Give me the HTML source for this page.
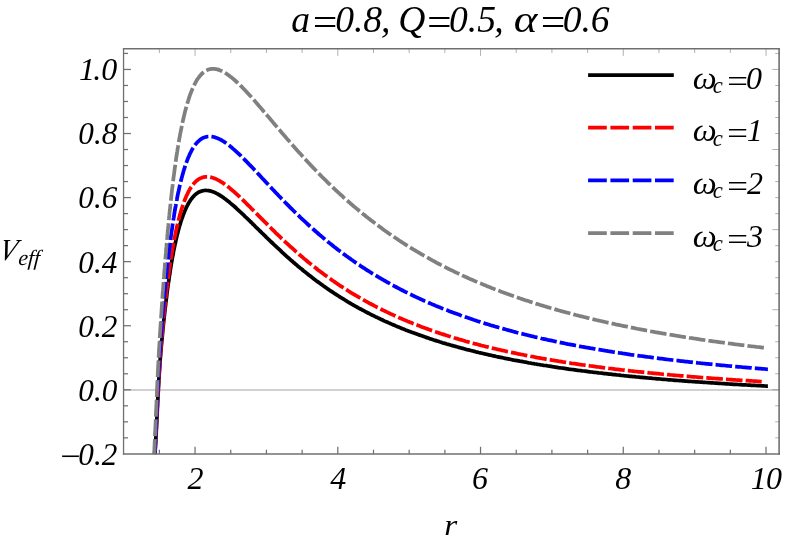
<!DOCTYPE html>
<html><head><meta charset="utf-8"><title>Veff plot</title>
<style>
html,body{margin:0;padding:0;background:#fff;}
body{width:789px;height:544px;overflow:hidden;}
svg{display:block;will-change:transform;}
text{font-family:"Liberation Serif",serif;font-style:italic;fill:#000;}
</style></head><body>
<svg width="789" height="544" viewBox="0 0 789 544">
<rect width="789" height="544" fill="#fff"/>
<line x1="123.70" y1="389.90" x2="779.50" y2="389.90" stroke="#c2c2c2" stroke-width="1.5"/>
<g stroke-linecap="butt" stroke-linejoin="round">
<path d="M155.0,454.1 L155.1,452.6 L155.2,451.1 L155.2,449.6 L155.3,448.1 L155.4,446.6 L155.5,445.1 L155.6,443.6 L155.7,442.1 L155.8,440.6 L155.8,439.1 L155.9,437.6 L156.0,436.1 L156.1,434.6 L156.2,433.1 L156.2,431.6 L156.3,430.1 L156.4,428.6 L156.5,427.1 L156.5,425.6 L156.6,424.1 L156.7,422.6 L156.8,421.1 L156.8,419.6 L156.9,418.1 L157.0,416.6 L157.1,415.1 L157.1,413.6 L157.2,412.1 L157.3,410.6 L157.3,409.1 L157.4,407.6 L157.5,406.1 L157.6,404.6 L157.6,403.1 L157.7,401.6 L157.8,400.1 L157.9,398.6 L157.9,397.1 L158.0,395.6 L158.1,394.1 L158.2,392.6 L158.3,391.1 L158.3,389.6 L158.4,388.0 L158.5,386.5 L158.6,385.0 L158.7,383.5 L158.8,382.0 L158.8,380.5 L158.9,379.0 L159.0,377.5 L159.1,376.0 L159.2,374.5 L159.3,373.0 L159.4,371.5 L159.5,370.0 L159.6,368.5 L159.7,367.0 L159.8,365.5 L159.9,364.0 L160.0,362.5 L160.1,361.0 L160.2,359.5 L160.3,358.0 L160.5,356.5 L160.6,355.1 L160.7,353.6 L160.8,352.1 L160.9,350.6 L161.1,349.1 L161.2,347.6 L161.3,346.1 L161.5,344.6 L161.6,343.1 L161.7,341.6 L161.9,340.1 L162.0,338.6 L162.2,337.1 L162.3,335.6 L162.5,334.1 L162.6,332.6 L162.7,331.1 L162.9,329.6 L163.0,328.1 L163.2,326.6 L163.3,325.1 L163.5,323.6 L163.7,322.1 L163.8,320.6 L164.0,319.1 L164.1,317.6 L164.3,316.1 L164.5,314.7 L164.6,313.2 L164.8,311.7 L165.0,310.2 L165.1,308.7 L165.3,307.2 L165.5,305.7 L165.7,304.2 L165.8,302.7 L166.0,301.2 L166.2,299.7 L166.4,298.2 L166.6,296.7 L166.8,295.2 L166.9,293.8 L167.1,292.3 L167.3,290.8 L167.5,289.3 L167.7,287.8 L167.9,286.3 L168.1,284.8 L168.3,283.3 L168.6,281.8 L168.8,280.4 L169.0,278.9 L169.2,277.4 L169.4,275.9 L169.7,274.4 L169.9,272.9 L170.1,271.4 L170.3,269.9 L170.6,268.5 L170.8,267.0 L171.1,265.5 L171.3,264.0 L171.6,262.5 L171.8,261.1 L172.1,259.6 L172.3,258.1 L172.6,256.6 L172.9,255.1 L173.2,253.7 L173.4,252.2 L173.7,250.7 L174.0,249.2 L174.3,247.8 L174.6,246.3 L174.9,244.8 L175.3,243.3 L175.6,241.9 L175.9,240.4 L176.2,238.9 L176.6,237.5 L176.9,236.0 L177.3,234.6 L177.7,233.1 L178.0,231.6 L178.4,230.2 L178.8,228.7 L179.2,227.3 L179.6,225.8 L180.1,224.4 L180.5,223.0 L180.9,221.5 L181.4,220.1 L181.9,218.7 L182.4,217.3 L182.9,215.8 L183.4,214.4 L184.0,213.0 L184.5,211.6 L185.1,210.3 L185.7,208.9 L186.3,207.5 L187.0,206.2 L187.7,204.8 L188.4,203.5 L189.2,202.2 L190.0,200.9 L190.8,199.7 L191.7,198.5 L192.7,197.3 L193.7,196.2 L194.7,195.1 L195.9,194.1 L197.1,193.2 L198.3,192.4 L199.7,191.7 L201.1,191.2 L202.5,190.8 L204.0,190.5 L205.5,190.4 L207.0,190.5 L208.5,190.6 L210.0,190.9 L211.4,191.3 L212.8,191.8 L214.2,192.3 L215.6,192.9 L216.9,193.6 L218.3,194.3 L219.6,195.1 L220.8,195.9 L222.1,196.7 L223.3,197.6 L224.5,198.5 L225.8,199.3 L226.9,200.3 L228.1,201.2 L229.3,202.1 L230.4,203.1 L231.6,204.1 L232.7,205.1 L233.9,206.0 L235.0,207.0 L236.1,208.0 L237.2,209.1 L238.3,210.1 L239.4,211.1 L240.5,212.1 L241.6,213.1 L242.7,214.2 L243.8,215.2 L244.9,216.3 L246.0,217.3 L247.1,218.3 L248.1,219.4 L249.2,220.4 L250.3,221.5 L251.4,222.5 L252.4,223.6 L253.5,224.7 L254.6,225.7 L255.6,226.8 L256.7,227.8 L257.8,228.9 L258.9,229.9 L259.9,231.0 L261.0,232.0 L262.1,233.1 L263.2,234.1 L264.2,235.2 L265.3,236.2 L266.4,237.3 L267.5,238.3 L268.5,239.4 L269.6,240.4 L270.7,241.5 L271.8,242.5 L272.9,243.5 L274.0,244.6 L275.1,245.6 L276.2,246.6 L277.3,247.7 L278.4,248.7 L279.5,249.7 L280.6,250.7 L281.7,251.8 L282.8,252.8 L283.9,253.8 L285.0,254.8 L286.1,255.8 L287.2,256.8 L288.3,257.8 L289.5,258.8 L290.6,259.8 L291.7,260.8 L292.9,261.8 L294.0,262.8 L295.1,263.7 L296.3,264.7 L297.4,265.7 L298.6,266.7 L299.7,267.6 L300.9,268.6 L302.1,269.5 L303.2,270.5 L304.4,271.4 L305.6,272.4 L306.7,273.3 L307.9,274.2 L309.1,275.2 L310.3,276.1 L311.5,277.0 L312.7,277.9 L313.8,278.9 L315.0,279.8 L316.2,280.7 L317.5,281.6 L318.7,282.4 L319.9,283.3 L321.1,284.2 L322.3,285.1 L323.5,286.0 L324.8,286.8 L326.0,287.7 L327.2,288.6 L328.5,289.4 L329.7,290.3 L331.0,291.1 L332.2,291.9 L333.5,292.8 L334.7,293.6 L336.0,294.4 L337.2,295.2 L338.5,296.0 L339.8,296.9 L341.0,297.7 L342.3,298.4 L343.6,299.2 L344.9,300.0 L346.2,300.8 L347.4,301.6 L348.7,302.3 L350.0,303.1 L351.3,303.9 L352.6,304.6 L353.9,305.4 L355.2,306.1 L356.6,306.8 L357.9,307.6 L359.2,308.3 L360.5,309.0 L361.8,309.7 L363.2,310.4 L364.5,311.1 L365.8,311.8 L367.1,312.5 L368.5,313.2 L369.8,313.9 L371.2,314.6 L372.5,315.3 L373.9,315.9 L375.2,316.6 L376.6,317.2 L377.9,317.9 L379.3,318.5 L380.6,319.2 L382.0,319.8 L383.4,320.5 L384.7,321.1 L386.1,321.7 L387.5,322.3 L388.8,322.9 L390.2,323.5 L391.6,324.1 L393.0,324.7 L394.4,325.3 L395.7,325.9 L397.1,326.5 L398.5,327.1 L399.9,327.6 L401.3,328.2 L402.7,328.8 L404.1,329.3 L405.5,329.9 L406.9,330.4 L408.3,331.0 L409.7,331.5 L411.1,332.0 L412.5,332.6 L413.9,333.1 L415.3,333.6 L416.7,334.1 L418.1,334.6 L419.6,335.1 L421.0,335.6 L422.4,336.1 L423.8,336.6 L425.2,337.1 L426.7,337.6 L428.1,338.1 L429.5,338.6 L430.9,339.0 L432.4,339.5 L433.8,340.0 L435.2,340.4 L436.7,340.9 L438.1,341.3 L439.5,341.8 L441.0,342.2 L442.4,342.7 L443.8,343.1 L445.3,343.5 L446.7,344.0 L448.2,344.4 L449.6,344.8 L451.1,345.2 L452.5,345.6 L453.9,346.0 L455.4,346.4 L456.8,346.8 L458.3,347.2 L459.7,347.6 L461.2,348.0 L462.6,348.4 L464.1,348.8 L465.5,349.2 L467.0,349.6 L468.5,349.9 L469.9,350.3 L471.4,350.7 L472.8,351.0 L474.3,351.4 L475.8,351.8 L477.2,352.1 L478.7,352.5 L480.1,352.8 L481.6,353.2 L483.1,353.5 L484.5,353.8 L486.0,354.2 L487.5,354.5 L488.9,354.9 L490.4,355.2 L491.9,355.5 L493.3,355.8 L494.8,356.1 L496.3,356.5 L497.7,356.8 L499.2,357.1 L500.7,357.4 L502.1,357.7 L503.6,358.0 L505.1,358.3 L506.6,358.6 L508.0,358.9 L509.5,359.2 L511.0,359.5 L512.5,359.8 L513.9,360.1 L515.4,360.3 L516.9,360.6 L518.4,360.9 L519.8,361.2 L521.3,361.4 L522.8,361.7 L524.3,362.0 L525.8,362.2 L527.2,362.5 L528.7,362.8 L530.2,363.0 L531.7,363.3 L533.2,363.5 L534.6,363.8 L536.1,364.0 L537.6,364.3 L539.1,364.5 L540.6,364.8 L542.1,365.0 L543.5,365.3 L545.0,365.5 L546.5,365.7 L548.0,366.0 L549.5,366.2 L551.0,366.4 L552.5,366.7 L553.9,366.9 L555.4,367.1 L556.9,367.3 L558.4,367.6 L559.9,367.8 L561.4,368.0 L562.9,368.2 L564.4,368.4 L565.8,368.6 L567.3,368.8 L568.8,369.1 L570.3,369.3 L571.8,369.5 L573.3,369.7 L574.8,369.9 L576.3,370.1 L577.8,370.3 L579.2,370.5 L580.7,370.7 L582.2,370.9 L583.7,371.0 L585.2,371.2 L586.7,371.4 L588.2,371.6 L589.7,371.8 L591.2,372.0 L592.7,372.2 L594.2,372.3 L595.7,372.5 L597.1,372.7 L598.6,372.9 L600.1,373.0 L601.6,373.2 L603.1,373.4 L604.6,373.6 L606.1,373.7 L607.6,373.9 L609.1,374.1 L610.6,374.2 L612.1,374.4 L613.6,374.6 L615.1,374.7 L616.6,374.9 L618.1,375.0 L619.6,375.2 L621.0,375.4 L622.5,375.5 L624.0,375.7 L625.5,375.8 L627.0,376.0 L628.5,376.1 L630.0,376.3 L631.5,376.4 L633.0,376.6 L634.5,376.7 L636.0,376.9 L637.5,377.0 L639.0,377.1 L640.5,377.3 L642.0,377.4 L643.5,377.6 L645.0,377.7 L646.5,377.8 L648.0,378.0 L649.5,378.1 L651.0,378.2 L652.5,378.4 L654.0,378.5 L655.5,378.6 L657.0,378.8 L658.5,378.9 L660.0,379.0 L661.5,379.2 L663.0,379.3 L664.5,379.4 L665.9,379.5 L667.4,379.7 L668.9,379.8 L670.4,379.9 L671.9,380.0 L673.4,380.1 L674.9,380.3 L676.4,380.4 L677.9,380.5 L679.4,380.6 L680.9,380.7 L682.4,380.8 L683.9,380.9 L685.4,381.1 L686.9,381.2 L688.4,381.3 L689.9,381.4 L691.4,381.5 L692.9,381.6 L694.4,381.7 L695.9,381.8 L697.4,381.9 L698.9,382.0 L700.4,382.1 L701.9,382.2 L703.4,382.3 L704.9,382.4 L706.4,382.5 L707.9,382.6 L709.4,382.7 L710.9,382.8 L712.4,382.9 L713.9,383.0 L715.4,383.1 L716.9,383.2 L718.4,383.3 L719.9,383.4 L721.4,383.5 L722.9,383.6 L724.4,383.7 L725.9,383.8 L727.4,383.9 L728.9,384.0 L730.4,384.1 L731.9,384.2 L733.4,384.3 L734.9,384.3 L736.4,384.4 L737.9,384.5 L739.4,384.6 L740.9,384.7 L742.4,384.8 L743.9,384.9 L745.4,384.9 L746.9,385.0 L748.4,385.1 L749.9,385.2 L751.4,385.3 L752.9,385.4 L754.4,385.4 L755.9,385.5 L757.4,385.6 L758.9,385.7 L760.4,385.7 L761.9,385.8 L763.4,385.9 L764.9,386.0 L766.4,386.1 L767.9,386.1" fill="none" stroke="#000000" stroke-width="3.75"/>
<path d="M154.9,454.1 L154.9,452.6 L155.0,451.1 L155.1,449.6 L155.2,448.1 L155.3,446.6 L155.4,445.1 L155.4,443.6 L155.5,442.1 L155.6,440.6 L155.7,439.1 L155.8,437.6 L155.8,436.1 L155.9,434.5 L156.0,433.0 L156.1,431.5 L156.2,430.0 L156.2,428.5 L156.3,427.0 L156.4,425.5 L156.5,424.0 L156.5,422.5 L156.6,421.0 L156.7,419.5 L156.7,418.0 L156.8,416.5 L156.9,415.0 L157.0,413.5 L157.0,412.0 L157.1,410.5 L157.2,409.0 L157.3,407.5 L157.3,406.0 L157.4,404.5 L157.5,403.0 L157.5,401.5 L157.6,400.0 L157.7,398.5 L157.8,397.0 L157.8,395.5 L157.9,394.0 L158.0,392.5 L158.1,391.0 L158.2,389.5 L158.2,388.0 L158.3,386.5 L158.4,385.0 L158.5,383.5 L158.6,381.9 L158.6,380.4 L158.7,378.9 L158.8,377.4 L158.9,375.9 L159.0,374.4 L159.1,372.9 L159.2,371.4 L159.3,369.9 L159.4,368.4 L159.5,366.9 L159.6,365.4 L159.7,363.9 L159.8,362.4 L159.9,360.9 L160.0,359.4 L160.1,357.9 L160.2,356.4 L160.3,354.9 L160.4,353.4 L160.5,351.9 L160.7,350.4 L160.8,348.9 L160.9,347.4 L161.0,345.9 L161.2,344.4 L161.3,342.9 L161.4,341.4 L161.6,339.9 L161.7,338.4 L161.8,336.9 L162.0,335.4 L162.1,333.9 L162.2,332.4 L162.4,330.9 L162.5,329.4 L162.6,327.9 L162.8,326.4 L162.9,324.9 L163.1,323.4 L163.2,321.9 L163.4,320.4 L163.5,319.0 L163.7,317.5 L163.8,316.0 L164.0,314.5 L164.1,313.0 L164.3,311.5 L164.4,310.0 L164.6,308.5 L164.8,307.0 L164.9,305.5 L165.1,304.0 L165.2,302.5 L165.4,301.0 L165.6,299.5 L165.7,298.0 L165.9,296.5 L166.1,295.0 L166.3,293.5 L166.4,292.0 L166.6,290.5 L166.8,289.0 L167.0,287.5 L167.2,286.1 L167.3,284.6 L167.5,283.1 L167.7,281.6 L167.9,280.1 L168.1,278.6 L168.3,277.1 L168.5,275.6 L168.7,274.1 L168.9,272.6 L169.1,271.1 L169.3,269.6 L169.5,268.2 L169.8,266.7 L170.0,265.2 L170.2,263.7 L170.4,262.2 L170.6,260.7 L170.9,259.2 L171.1,257.7 L171.3,256.2 L171.6,254.8 L171.8,253.3 L172.1,251.8 L172.3,250.3 L172.6,248.8 L172.8,247.3 L173.1,245.9 L173.4,244.4 L173.6,242.9 L173.9,241.4 L174.2,239.9 L174.5,238.5 L174.8,237.0 L175.1,235.5 L175.4,234.0 L175.7,232.6 L176.0,231.1 L176.3,229.6 L176.6,228.2 L176.9,226.7 L177.3,225.2 L177.6,223.8 L178.0,222.3 L178.3,220.8 L178.7,219.4 L179.1,217.9 L179.5,216.5 L179.9,215.0 L180.3,213.6 L180.7,212.1 L181.1,210.7 L181.6,209.2 L182.0,207.8 L182.5,206.4 L183.0,204.9 L183.5,203.5 L184.0,202.1 L184.5,200.7 L185.0,199.3 L185.6,197.9 L186.2,196.5 L186.8,195.1 L187.5,193.8 L188.1,192.4 L188.8,191.1 L189.5,189.8 L190.3,188.5 L191.1,187.2 L192.0,186.0 L192.9,184.8 L193.8,183.6 L194.8,182.5 L195.9,181.4 L197.0,180.4 L198.2,179.5 L199.5,178.7 L200.9,178.1 L202.3,177.5 L203.7,177.1 L205.2,176.9 L206.7,176.8 L208.2,176.8 L209.7,177.0 L211.2,177.3 L212.6,177.7 L214.0,178.2 L215.4,178.8 L216.8,179.4 L218.1,180.1 L219.5,180.8 L220.7,181.6 L222.0,182.4 L223.3,183.2 L224.5,184.1 L225.7,185.0 L226.9,185.9 L228.1,186.8 L229.3,187.7 L230.4,188.7 L231.6,189.7 L232.7,190.7 L233.9,191.6 L235.0,192.6 L236.1,193.7 L237.2,194.7 L238.3,195.7 L239.4,196.7 L240.5,197.8 L241.6,198.8 L242.7,199.8 L243.8,200.9 L244.8,201.9 L245.9,203.0 L247.0,204.1 L248.0,205.1 L249.1,206.2 L250.2,207.2 L251.2,208.3 L252.3,209.4 L253.4,210.4 L254.4,211.5 L255.5,212.6 L256.5,213.6 L257.6,214.7 L258.7,215.8 L259.7,216.8 L260.8,217.9 L261.8,219.0 L262.9,220.0 L264.0,221.1 L265.0,222.2 L266.1,223.2 L267.2,224.3 L268.2,225.4 L269.3,226.4 L270.4,227.5 L271.4,228.5 L272.5,229.6 L273.6,230.7 L274.6,231.7 L275.7,232.8 L276.8,233.8 L277.9,234.9 L279.0,235.9 L280.1,236.9 L281.1,238.0 L282.2,239.0 L283.3,240.1 L284.4,241.1 L285.5,242.1 L286.6,243.1 L287.7,244.2 L288.8,245.2 L289.9,246.2 L291.1,247.2 L292.2,248.2 L293.3,249.2 L294.4,250.2 L295.5,251.2 L296.7,252.2 L297.8,253.2 L298.9,254.2 L300.1,255.2 L301.2,256.2 L302.4,257.1 L303.5,258.1 L304.7,259.1 L305.8,260.0 L307.0,261.0 L308.1,262.0 L309.3,262.9 L310.5,263.9 L311.6,264.8 L312.8,265.8 L314.0,266.7 L315.2,267.6 L316.4,268.5 L317.5,269.5 L318.7,270.4 L319.9,271.3 L321.1,272.2 L322.3,273.1 L323.5,274.0 L324.7,274.9 L326.0,275.8 L327.2,276.7 L328.4,277.6 L329.6,278.4 L330.9,279.3 L332.1,280.2 L333.3,281.0 L334.6,281.9 L335.8,282.7 L337.0,283.6 L338.3,284.4 L339.5,285.3 L340.8,286.1 L342.1,286.9 L343.3,287.7 L344.6,288.6 L345.8,289.4 L347.1,290.2 L348.4,291.0 L349.7,291.8 L350.9,292.6 L352.2,293.3 L353.5,294.1 L354.8,294.9 L356.1,295.7 L357.4,296.4 L358.7,297.2 L360.0,297.9 L361.3,298.7 L362.6,299.4 L363.9,300.2 L365.2,300.9 L366.6,301.6 L367.9,302.3 L369.2,303.1 L370.5,303.8 L371.9,304.5 L373.2,305.2 L374.5,305.9 L375.9,306.6 L377.2,307.3 L378.5,307.9 L379.9,308.6 L381.2,309.3 L382.6,310.0 L383.9,310.6 L385.3,311.3 L386.6,311.9 L388.0,312.6 L389.4,313.2 L390.7,313.9 L392.1,314.5 L393.5,315.1 L394.8,315.7 L396.2,316.4 L397.6,317.0 L398.9,317.6 L400.3,318.2 L401.7,318.8 L403.1,319.4 L404.5,320.0 L405.9,320.5 L407.2,321.1 L408.6,321.7 L410.0,322.3 L411.4,322.8 L412.8,323.4 L414.2,323.9 L415.6,324.5 L417.0,325.0 L418.4,325.6 L419.8,326.1 L421.2,326.7 L422.6,327.2 L424.1,327.7 L425.5,328.2 L426.9,328.7 L428.3,329.3 L429.7,329.8 L431.1,330.3 L432.6,330.8 L434.0,331.3 L435.4,331.8 L436.8,332.2 L438.2,332.7 L439.7,333.2 L441.1,333.7 L442.5,334.1 L444.0,334.6 L445.4,335.1 L446.8,335.5 L448.3,336.0 L449.7,336.4 L451.1,336.9 L452.6,337.3 L454.0,337.8 L455.4,338.2 L456.9,338.6 L458.3,339.1 L459.8,339.5 L461.2,339.9 L462.7,340.3 L464.1,340.7 L465.6,341.2 L467.0,341.6 L468.5,342.0 L469.9,342.4 L471.4,342.8 L472.8,343.2 L474.3,343.6 L475.7,343.9 L477.2,344.3 L478.6,344.7 L480.1,345.1 L481.5,345.5 L483.0,345.8 L484.5,346.2 L485.9,346.6 L487.4,346.9 L488.8,347.3 L490.3,347.6 L491.8,348.0 L493.2,348.3 L494.7,348.7 L496.2,349.0 L497.6,349.4 L499.1,349.7 L500.6,350.0 L502.0,350.4 L503.5,350.7 L505.0,351.0 L506.4,351.4 L507.9,351.7 L509.4,352.0 L510.8,352.3 L512.3,352.6 L513.8,352.9 L515.3,353.2 L516.7,353.5 L518.2,353.9 L519.7,354.2 L521.2,354.5 L522.6,354.7 L524.1,355.0 L525.6,355.3 L527.1,355.6 L528.5,355.9 L530.0,356.2 L531.5,356.5 L533.0,356.7 L534.5,357.0 L535.9,357.3 L537.4,357.6 L538.9,357.8 L540.4,358.1 L541.9,358.4 L543.3,358.6 L544.8,358.9 L546.3,359.2 L547.8,359.4 L549.3,359.7 L550.7,359.9 L552.2,360.2 L553.7,360.4 L555.2,360.7 L556.7,360.9 L558.2,361.2 L559.7,361.4 L561.1,361.6 L562.6,361.9 L564.1,362.1 L565.6,362.3 L567.1,362.6 L568.6,362.8 L570.1,363.0 L571.5,363.3 L573.0,363.5 L574.5,363.7 L576.0,363.9 L577.5,364.1 L579.0,364.4 L580.5,364.6 L582.0,364.8 L583.5,365.0 L584.9,365.2 L586.4,365.4 L587.9,365.6 L589.4,365.8 L590.9,366.0 L592.4,366.2 L593.9,366.4 L595.4,366.6 L596.9,366.8 L598.4,367.0 L599.9,367.2 L601.4,367.4 L602.8,367.6 L604.3,367.8 L605.8,368.0 L607.3,368.2 L608.8,368.4 L610.3,368.5 L611.8,368.7 L613.3,368.9 L614.8,369.1 L616.3,369.3 L617.8,369.4 L619.3,369.6 L620.8,369.8 L622.3,370.0 L623.8,370.1 L625.3,370.3 L626.7,370.5 L628.2,370.6 L629.7,370.8 L631.2,371.0 L632.7,371.1 L634.2,371.3 L635.7,371.5 L637.2,371.6 L638.7,371.8 L640.2,371.9 L641.7,372.1 L643.2,372.2 L644.7,372.4 L646.2,372.5 L647.7,372.7 L649.2,372.9 L650.7,373.0 L652.2,373.1 L653.7,373.3 L655.2,373.4 L656.7,373.6 L658.2,373.7 L659.7,373.9 L661.2,374.0 L662.7,374.2 L664.2,374.3 L665.7,374.4 L667.2,374.6 L668.7,374.7 L670.2,374.9 L671.7,375.0 L673.2,375.1 L674.7,375.3 L676.2,375.4 L677.7,375.5 L679.2,375.6 L680.7,375.8 L682.2,375.9 L683.7,376.0 L685.2,376.2 L686.7,376.3 L688.2,376.4 L689.7,376.5 L691.2,376.7 L692.7,376.8 L694.2,376.9 L695.7,377.0 L697.2,377.1 L698.7,377.3 L700.2,377.4 L701.7,377.5 L703.2,377.6 L704.7,377.7 L706.2,377.8 L707.7,377.9 L709.2,378.1 L710.7,378.2 L712.2,378.3 L713.7,378.4 L715.2,378.5 L716.7,378.6 L718.2,378.7 L719.7,378.8 L721.2,378.9 L722.7,379.0 L724.2,379.1 L725.7,379.3 L727.2,379.4 L728.7,379.5 L730.2,379.6 L731.7,379.7 L733.2,379.8 L734.7,379.9 L736.2,380.0 L737.7,380.1 L739.2,380.2 L740.7,380.3 L742.2,380.4 L743.7,380.5 L745.2,380.5 L746.7,380.6 L748.2,380.7 L749.7,380.8 L751.2,380.9 L752.7,381.0 L754.2,381.1 L755.7,381.2 L757.2,381.3 L758.7,381.4 L760.2,381.5 L761.7,381.6" fill="none" stroke="#ff0000" stroke-width="3.75" stroke-dasharray="16.617 3.1" stroke-dashoffset="1.7"/>
<path d="M154.6,454.1 L154.7,452.6 L154.8,451.1 L154.9,449.6 L155.0,448.1 L155.0,446.6 L155.1,445.1 L155.2,443.6 L155.3,442.0 L155.3,440.5 L155.4,439.0 L155.5,437.5 L155.6,436.0 L155.6,434.5 L155.7,433.0 L155.8,431.5 L155.9,430.0 L155.9,428.5 L156.0,427.0 L156.1,425.5 L156.1,424.0 L156.2,422.5 L156.3,421.0 L156.4,419.5 L156.4,418.0 L156.5,416.5 L156.6,415.0 L156.6,413.5 L156.7,412.0 L156.8,410.5 L156.8,409.0 L156.9,407.5 L157.0,406.0 L157.0,404.5 L157.1,403.0 L157.2,401.5 L157.2,400.0 L157.3,398.5 L157.4,397.0 L157.4,395.5 L157.5,394.0 L157.6,392.5 L157.6,391.0 L157.7,389.5 L157.8,388.0 L157.9,386.5 L157.9,385.0 L158.0,383.5 L158.1,382.0 L158.2,380.5 L158.2,379.0 L158.3,377.5 L158.4,376.0 L158.5,374.4 L158.6,372.9 L158.6,371.4 L158.7,369.9 L158.8,368.4 L158.9,366.9 L159.0,365.4 L159.1,363.9 L159.2,362.4 L159.2,360.9 L159.3,359.4 L159.4,357.9 L159.5,356.4 L159.6,354.9 L159.7,353.4 L159.8,351.9 L159.9,350.4 L160.0,348.9 L160.1,347.4 L160.3,345.9 L160.4,344.4 L160.5,342.9 L160.6,341.4 L160.7,339.9 L160.8,338.4 L160.9,336.9 L161.0,335.4 L161.2,333.9 L161.3,332.4 L161.4,330.9 L161.5,329.4 L161.6,327.9 L161.7,326.4 L161.9,324.9 L162.0,323.4 L162.1,321.9 L162.2,320.4 L162.4,318.9 L162.5,317.4 L162.6,315.9 L162.7,314.4 L162.9,312.9 L163.0,311.5 L163.1,310.0 L163.2,308.5 L163.4,307.0 L163.5,305.5 L163.6,304.0 L163.8,302.5 L163.9,301.0 L164.0,299.5 L164.2,298.0 L164.3,296.5 L164.5,295.0 L164.6,293.5 L164.7,292.0 L164.9,290.5 L165.0,289.0 L165.2,287.5 L165.3,286.0 L165.5,284.5 L165.6,283.0 L165.8,281.5 L165.9,280.0 L166.1,278.5 L166.2,277.0 L166.4,275.5 L166.5,274.0 L166.7,272.5 L166.8,271.0 L167.0,269.5 L167.2,268.0 L167.3,266.5 L167.5,265.0 L167.6,263.6 L167.8,262.1 L168.0,260.6 L168.2,259.1 L168.3,257.6 L168.5,256.1 L168.7,254.6 L168.9,253.1 L169.0,251.6 L169.2,250.1 L169.4,248.6 L169.6,247.1 L169.8,245.6 L170.0,244.1 L170.1,242.6 L170.3,241.2 L170.5,239.7 L170.7,238.2 L170.9,236.7 L171.1,235.2 L171.3,233.7 L171.5,232.2 L171.8,230.7 L172.0,229.2 L172.2,227.7 L172.4,226.3 L172.6,224.8 L172.8,223.3 L173.1,221.8 L173.3,220.3 L173.5,218.8 L173.8,217.3 L174.0,215.9 L174.2,214.4 L174.5,212.9 L174.7,211.4 L175.0,209.9 L175.2,208.4 L175.5,207.0 L175.8,205.5 L176.0,204.0 L176.3,202.5 L176.6,201.0 L176.9,199.6 L177.1,198.1 L177.4,196.6 L177.7,195.1 L178.0,193.7 L178.3,192.2 L178.7,190.7 L179.0,189.2 L179.3,187.8 L179.6,186.3 L180.0,184.8 L180.3,183.4 L180.7,181.9 L181.0,180.5 L181.4,179.0 L181.8,177.5 L182.2,176.1 L182.6,174.6 L183.0,173.2 L183.4,171.8 L183.8,170.3 L184.3,168.9 L184.7,167.4 L185.2,166.0 L185.6,164.6 L186.1,163.2 L186.7,161.7 L187.2,160.3 L187.7,158.9 L188.3,157.5 L188.9,156.2 L189.5,154.8 L190.1,153.4 L190.8,152.1 L191.5,150.7 L192.2,149.4 L193.0,148.1 L193.8,146.9 L194.6,145.6 L195.5,144.4 L196.5,143.2 L197.5,142.1 L198.6,141.1 L199.7,140.1 L200.9,139.2 L202.2,138.4 L203.5,137.7 L204.9,137.2 L206.4,136.8 L207.8,136.5 L209.4,136.4 L210.9,136.5 L212.3,136.7 L213.8,137.0 L215.3,137.4 L216.7,137.9 L218.1,138.5 L219.4,139.1 L220.8,139.8 L222.1,140.5 L223.4,141.3 L224.6,142.1 L225.9,143.0 L227.1,143.9 L228.3,144.8 L229.5,145.7 L230.6,146.7 L231.8,147.6 L232.9,148.6 L234.1,149.6 L235.2,150.6 L236.3,151.6 L237.4,152.6 L238.5,153.6 L239.6,154.7 L240.7,155.7 L241.7,156.8 L242.8,157.8 L243.9,158.9 L244.9,160.0 L246.0,161.0 L247.0,162.1 L248.1,163.2 L249.1,164.3 L250.2,165.4 L251.2,166.4 L252.3,167.5 L253.3,168.6 L254.3,169.7 L255.4,170.8 L256.4,171.9 L257.4,173.0 L258.4,174.1 L259.5,175.2 L260.5,176.3 L261.5,177.4 L262.5,178.5 L263.6,179.6 L264.6,180.7 L265.6,181.8 L266.6,182.9 L267.7,184.0 L268.7,185.1 L269.7,186.2 L270.8,187.3 L271.8,188.4 L272.8,189.5 L273.9,190.6 L274.9,191.7 L275.9,192.8 L277.0,193.8 L278.0,194.9 L279.0,196.0 L280.1,197.1 L281.1,198.2 L282.2,199.3 L283.2,200.3 L284.3,201.4 L285.3,202.5 L286.4,203.6 L287.4,204.6 L288.5,205.7 L289.6,206.8 L290.6,207.8 L291.7,208.9 L292.8,210.0 L293.8,211.0 L294.9,212.1 L296.0,213.1 L297.1,214.2 L298.1,215.2 L299.2,216.2 L300.3,217.3 L301.4,218.3 L302.5,219.4 L303.6,220.4 L304.7,221.4 L305.8,222.4 L306.9,223.5 L308.0,224.5 L309.1,225.5 L310.2,226.5 L311.3,227.5 L312.5,228.5 L313.6,229.5 L314.7,230.5 L315.8,231.5 L317.0,232.5 L318.1,233.5 L319.2,234.5 L320.4,235.4 L321.5,236.4 L322.7,237.4 L323.8,238.4 L325.0,239.3 L326.1,240.3 L327.3,241.2 L328.5,242.2 L329.6,243.1 L330.8,244.1 L332.0,245.0 L333.2,246.0 L334.3,246.9 L335.5,247.8 L336.7,248.7 L337.9,249.7 L339.1,250.6 L340.3,251.5 L341.5,252.4 L342.7,253.3 L343.9,254.2 L345.1,255.1 L346.3,256.0 L347.5,256.8 L348.8,257.7 L350.0,258.6 L351.2,259.5 L352.4,260.3 L353.7,261.2 L354.9,262.1 L356.1,262.9 L357.4,263.8 L358.6,264.6 L359.9,265.4 L361.1,266.3 L362.4,267.1 L363.6,267.9 L364.9,268.7 L366.2,269.6 L367.4,270.4 L368.7,271.2 L370.0,272.0 L371.3,272.8 L372.5,273.6 L373.8,274.4 L375.1,275.1 L376.4,275.9 L377.7,276.7 L379.0,277.5 L380.3,278.2 L381.6,279.0 L382.9,279.7 L384.2,280.5 L385.5,281.2 L386.8,282.0 L388.1,282.7 L389.4,283.4 L390.7,284.2 L392.0,284.9 L393.4,285.6 L394.7,286.3 L396.0,287.0 L397.3,287.7 L398.7,288.4 L400.0,289.1 L401.3,289.8 L402.7,290.5 L404.0,291.2 L405.4,291.9 L406.7,292.5 L408.1,293.2 L409.4,293.9 L410.8,294.5 L412.1,295.2 L413.5,295.8 L414.8,296.5 L416.2,297.1 L417.6,297.7 L418.9,298.4 L420.3,299.0 L421.7,299.6 L423.0,300.2 L424.4,300.9 L425.8,301.5 L427.1,302.1 L428.5,302.7 L429.9,303.3 L431.3,303.9 L432.7,304.5 L434.1,305.0 L435.4,305.6 L436.8,306.2 L438.2,306.8 L439.6,307.3 L441.0,307.9 L442.4,308.5 L443.8,309.0 L445.2,309.6 L446.6,310.1 L448.0,310.6 L449.4,311.2 L450.8,311.7 L452.2,312.3 L453.6,312.8 L455.0,313.3 L456.5,313.8 L457.9,314.3 L459.3,314.8 L460.7,315.4 L462.1,315.9 L463.5,316.4 L465.0,316.9 L466.4,317.3 L467.8,317.8 L469.2,318.3 L470.6,318.8 L472.1,319.3 L473.5,319.8 L474.9,320.2 L476.4,320.7 L477.8,321.2 L479.2,321.6 L480.7,322.1 L482.1,322.5 L483.5,323.0 L485.0,323.4 L486.4,323.9 L487.8,324.3 L489.3,324.7 L490.7,325.2 L492.2,325.6 L493.6,326.0 L495.0,326.5 L496.5,326.9 L497.9,327.3 L499.4,327.7 L500.8,328.1 L502.3,328.5 L503.7,328.9 L505.2,329.3 L506.6,329.7 L508.1,330.1 L509.5,330.5 L511.0,330.9 L512.4,331.3 L513.9,331.7 L515.3,332.1 L516.8,332.5 L518.2,332.8 L519.7,333.2 L521.2,333.6 L522.6,333.9 L524.1,334.3 L525.5,334.7 L527.0,335.0 L528.5,335.4 L529.9,335.7 L531.4,336.1 L532.8,336.4 L534.3,336.8 L535.8,337.1 L537.2,337.5 L538.7,337.8 L540.2,338.1 L541.6,338.5 L543.1,338.8 L544.6,339.1 L546.0,339.4 L547.5,339.8 L549.0,340.1 L550.4,340.4 L551.9,340.7 L553.4,341.0 L554.9,341.4 L556.3,341.7 L557.8,342.0 L559.3,342.3 L560.7,342.6 L562.2,342.9 L563.7,343.2 L565.2,343.5 L566.6,343.8 L568.1,344.1 L569.6,344.3 L571.1,344.6 L572.5,344.9 L574.0,345.2 L575.5,345.5 L577.0,345.8 L578.5,346.0 L579.9,346.3 L581.4,346.6 L582.9,346.8 L584.4,347.1 L585.9,347.4 L587.3,347.6 L588.8,347.9 L590.3,348.2 L591.8,348.4 L593.3,348.7 L594.7,348.9 L596.2,349.2 L597.7,349.5 L599.2,349.7 L600.7,349.9 L602.2,350.2 L603.6,350.4 L605.1,350.7 L606.6,350.9 L608.1,351.2 L609.6,351.4 L611.1,351.6 L612.6,351.9 L614.0,352.1 L615.5,352.3 L617.0,352.6 L618.5,352.8 L620.0,353.0 L621.5,353.2 L623.0,353.5 L624.4,353.7 L625.9,353.9 L627.4,354.1 L628.9,354.3 L630.4,354.6 L631.9,354.8 L633.4,355.0 L634.9,355.2 L636.4,355.4 L637.8,355.6 L639.3,355.8 L640.8,356.0 L642.3,356.2 L643.8,356.4 L645.3,356.6 L646.8,356.8 L648.3,357.0 L649.8,357.2 L651.3,357.4 L652.7,357.6 L654.2,357.8 L655.7,358.0 L657.2,358.2 L658.7,358.4 L660.2,358.6 L661.7,358.7 L663.2,358.9 L664.7,359.1 L666.2,359.3 L667.7,359.5 L669.2,359.7 L670.7,359.8 L672.1,360.0 L673.6,360.2 L675.1,360.4 L676.6,360.5 L678.1,360.7 L679.6,360.9 L681.1,361.1 L682.6,361.2 L684.1,361.4 L685.6,361.6 L687.1,361.7 L688.6,361.9 L690.1,362.1 L691.6,362.2 L693.1,362.4 L694.6,362.5 L696.1,362.7 L697.6,362.9 L699.1,363.0 L700.5,363.2 L702.0,363.3 L703.5,363.5 L705.0,363.6 L706.5,363.8 L708.0,363.9 L709.5,364.1 L711.0,364.2 L712.5,364.4 L714.0,364.5 L715.5,364.7 L717.0,364.8 L718.5,365.0 L720.0,365.1 L721.5,365.3 L723.0,365.4 L724.5,365.5 L726.0,365.7 L727.5,365.8 L729.0,366.0 L730.5,366.1 L732.0,366.2 L733.5,366.4 L735.0,366.5 L736.5,366.6 L738.0,366.8 L739.5,366.9 L741.0,367.0 L742.5,367.2 L744.0,367.3 L745.5,367.4 L747.0,367.6 L748.5,367.7 L750.0,367.8 L751.5,367.9 L753.0,368.1 L754.5,368.2 L756.0,368.3 L757.5,368.4 L759.0,368.6 L760.5,368.7 L762.0,368.8 L763.4,368.9 L764.9,369.0 L766.4,369.2 L767.9,369.3" fill="none" stroke="#0000ff" stroke-width="3.75" stroke-dasharray="16.595 3.1" stroke-dashoffset="1.7"/>
<path d="M154.1,454.1 L154.2,452.6 L154.3,451.1 L154.4,449.6 L154.4,448.1 L154.5,446.5 L154.6,445.0 L154.6,443.5 L154.7,442.0 L154.8,440.5 L154.9,439.0 L154.9,437.5 L155.0,436.0 L155.1,434.5 L155.1,433.0 L155.2,431.5 L155.3,430.0 L155.3,428.5 L155.4,427.0 L155.5,425.5 L155.5,424.0 L155.6,422.5 L155.7,421.0 L155.7,419.5 L155.8,418.0 L155.9,416.5 L155.9,415.0 L156.0,413.5 L156.1,412.0 L156.1,410.5 L156.2,409.0 L156.3,407.5 L156.3,406.0 L156.4,404.5 L156.5,403.0 L156.5,401.5 L156.6,400.0 L156.7,398.5 L156.7,397.0 L156.8,395.5 L156.9,394.0 L156.9,392.5 L157.0,391.0 L157.1,389.5 L157.1,388.0 L157.2,386.5 L157.3,384.9 L157.3,383.4 L157.4,381.9 L157.5,380.4 L157.5,378.9 L157.6,377.4 L157.7,375.9 L157.8,374.4 L157.8,372.9 L157.9,371.4 L158.0,369.9 L158.1,368.4 L158.1,366.9 L158.2,365.4 L158.3,363.9 L158.4,362.4 L158.4,360.9 L158.5,359.4 L158.6,357.9 L158.7,356.4 L158.8,354.9 L158.9,353.4 L158.9,351.9 L159.0,350.4 L159.1,348.9 L159.2,347.4 L159.3,345.9 L159.4,344.4 L159.5,342.9 L159.6,341.4 L159.7,339.9 L159.8,338.4 L159.8,336.9 L159.9,335.4 L160.0,333.9 L160.1,332.4 L160.2,330.9 L160.3,329.4 L160.4,327.9 L160.5,326.4 L160.6,324.9 L160.7,323.4 L160.8,321.9 L160.9,320.4 L161.0,318.9 L161.1,317.4 L161.2,315.9 L161.3,314.4 L161.4,312.9 L161.5,311.4 L161.6,309.9 L161.7,308.4 L161.8,306.9 L161.9,305.4 L162.0,303.9 L162.1,302.4 L162.2,300.9 L162.3,299.4 L162.4,297.9 L162.5,296.4 L162.6,294.9 L162.7,293.4 L162.8,291.9 L163.0,290.4 L163.1,288.9 L163.2,287.4 L163.3,285.9 L163.4,284.4 L163.5,282.9 L163.6,281.4 L163.7,279.9 L163.8,278.4 L164.0,276.9 L164.1,275.4 L164.2,273.9 L164.3,272.4 L164.4,270.9 L164.5,269.4 L164.7,267.9 L164.8,266.4 L164.9,264.9 L165.0,263.4 L165.1,261.9 L165.3,260.4 L165.4,258.9 L165.5,257.4 L165.6,255.9 L165.7,254.4 L165.9,252.9 L166.0,251.4 L166.1,249.9 L166.2,248.4 L166.4,246.9 L166.5,245.4 L166.6,243.9 L166.8,242.4 L166.9,240.9 L167.0,239.4 L167.2,237.9 L167.3,236.4 L167.4,234.9 L167.6,233.4 L167.7,231.9 L167.8,230.4 L168.0,228.9 L168.1,227.4 L168.3,225.9 L168.4,224.4 L168.6,222.9 L168.7,221.4 L168.8,219.9 L169.0,218.4 L169.1,216.9 L169.3,215.4 L169.4,214.0 L169.6,212.5 L169.7,211.0 L169.9,209.5 L170.1,208.0 L170.2,206.5 L170.4,205.0 L170.5,203.5 L170.7,202.0 L170.9,200.5 L171.0,199.0 L171.2,197.5 L171.4,196.0 L171.5,194.5 L171.7,193.0 L171.9,191.5 L172.0,190.0 L172.2,188.5 L172.4,187.0 L172.6,185.5 L172.7,184.1 L172.9,182.6 L173.1,181.1 L173.3,179.6 L173.5,178.1 L173.7,176.6 L173.9,175.1 L174.1,173.6 L174.3,172.1 L174.5,170.6 L174.7,169.1 L174.9,167.6 L175.1,166.2 L175.3,164.7 L175.5,163.2 L175.7,161.7 L175.9,160.2 L176.1,158.7 L176.3,157.2 L176.6,155.7 L176.8,154.3 L177.0,152.8 L177.3,151.3 L177.5,149.8 L177.7,148.3 L178.0,146.8 L178.2,145.3 L178.5,143.9 L178.7,142.4 L179.0,140.9 L179.2,139.4 L179.5,137.9 L179.8,136.4 L180.0,135.0 L180.3,133.5 L180.6,132.0 L180.9,130.5 L181.2,129.1 L181.5,127.6 L181.8,126.1 L182.1,124.6 L182.4,123.2 L182.7,121.7 L183.0,120.2 L183.4,118.8 L183.7,117.3 L184.0,115.8 L184.4,114.4 L184.7,112.9 L185.1,111.5 L185.5,110.0 L185.9,108.5 L186.3,107.1 L186.7,105.6 L187.1,104.2 L187.5,102.8 L188.0,101.3 L188.4,99.9 L188.9,98.5 L189.3,97.0 L189.8,95.6 L190.3,94.2 L190.9,92.8 L191.4,91.4 L192.0,90.0 L192.6,88.6 L193.2,87.2 L193.8,85.9 L194.5,84.5 L195.2,83.2 L195.9,81.9 L196.6,80.6 L197.4,79.3 L198.3,78.0 L199.2,76.8 L200.1,75.7 L201.1,74.5 L202.2,73.5 L203.3,72.5 L204.5,71.6 L205.8,70.8 L207.1,70.1 L208.5,69.5 L210.0,69.1 L211.5,68.9 L213.0,68.8 L214.5,68.9 L215.9,69.1 L217.4,69.4 L218.9,69.9 L220.3,70.4 L221.6,71.0 L223.0,71.7 L224.3,72.4 L225.6,73.2 L226.9,74.0 L228.1,74.9 L229.3,75.7 L230.5,76.7 L231.7,77.6 L232.8,78.5 L234.0,79.5 L235.1,80.5 L236.2,81.5 L237.3,82.5 L238.4,83.6 L239.5,84.6 L240.6,85.7 L241.6,86.7 L242.7,87.8 L243.7,88.9 L244.8,90.0 L245.8,91.1 L246.8,92.2 L247.9,93.3 L248.9,94.4 L249.9,95.5 L250.9,96.6 L251.9,97.7 L252.9,98.9 L253.9,100.0 L254.9,101.1 L255.9,102.3 L256.9,103.4 L257.8,104.5 L258.8,105.7 L259.8,106.8 L260.8,107.9 L261.8,109.1 L262.7,110.2 L263.7,111.4 L264.7,112.5 L265.7,113.7 L266.6,114.8 L267.6,116.0 L268.6,117.1 L269.6,118.3 L270.5,119.4 L271.5,120.6 L272.5,121.7 L273.4,122.9 L274.4,124.0 L275.4,125.2 L276.4,126.3 L277.3,127.4 L278.3,128.6 L279.3,129.7 L280.3,130.9 L281.2,132.0 L282.2,133.2 L283.2,134.3 L284.2,135.4 L285.1,136.6 L286.1,137.7 L287.1,138.9 L288.1,140.0 L289.1,141.1 L290.1,142.3 L291.1,143.4 L292.1,144.5 L293.0,145.7 L294.0,146.8 L295.0,147.9 L296.0,149.0 L297.0,150.2 L298.0,151.3 L299.0,152.4 L300.1,153.5 L301.1,154.6 L302.1,155.8 L303.1,156.9 L304.1,158.0 L305.1,159.1 L306.1,160.2 L307.2,161.3 L308.2,162.4 L309.2,163.5 L310.2,164.6 L311.3,165.7 L312.3,166.8 L313.3,167.9 L314.4,168.9 L315.4,170.0 L316.5,171.1 L317.5,172.2 L318.6,173.3 L319.6,174.3 L320.7,175.4 L321.7,176.5 L322.8,177.6 L323.9,178.6 L324.9,179.7 L326.0,180.7 L327.1,181.8 L328.1,182.8 L329.2,183.9 L330.3,184.9 L331.4,186.0 L332.5,187.0 L333.6,188.1 L334.6,189.1 L335.7,190.1 L336.8,191.2 L337.9,192.2 L339.0,193.2 L340.1,194.2 L341.3,195.2 L342.4,196.2 L343.5,197.3 L344.6,198.3 L345.7,199.3 L346.8,200.3 L348.0,201.3 L349.1,202.2 L350.2,203.2 L351.4,204.2 L352.5,205.2 L353.7,206.2 L354.8,207.1 L356.0,208.1 L357.1,209.1 L358.3,210.0 L359.4,211.0 L360.6,212.0 L361.7,212.9 L362.9,213.9 L364.1,214.8 L365.3,215.8 L366.4,216.7 L367.6,217.6 L368.8,218.6 L370.0,219.5 L371.2,220.4 L372.4,221.3 L373.6,222.2 L374.8,223.1 L376.0,224.0 L377.2,224.9 L378.4,225.8 L379.6,226.7 L380.8,227.6 L382.0,228.5 L383.2,229.4 L384.4,230.3 L385.7,231.2 L386.9,232.0 L388.1,232.9 L389.3,233.8 L390.6,234.6 L391.8,235.5 L393.1,236.3 L394.3,237.2 L395.6,238.0 L396.8,238.8 L398.1,239.7 L399.3,240.5 L400.6,241.3 L401.8,242.2 L403.1,243.0 L404.4,243.8 L405.6,244.6 L406.9,245.4 L408.2,246.2 L409.4,247.0 L410.7,247.8 L412.0,248.6 L413.3,249.4 L414.6,250.1 L415.9,250.9 L417.1,251.7 L418.4,252.4 L419.7,253.2 L421.0,254.0 L422.3,254.7 L423.6,255.5 L424.9,256.2 L426.3,257.0 L427.6,257.7 L428.9,258.4 L430.2,259.2 L431.5,259.9 L432.8,260.6 L434.2,261.3 L435.5,262.0 L436.8,262.8 L438.1,263.5 L439.5,264.2 L440.8,264.9 L442.1,265.5 L443.5,266.2 L444.8,266.9 L446.1,267.6 L447.5,268.3 L448.8,269.0 L450.2,269.6 L451.5,270.3 L452.9,270.9 L454.2,271.6 L455.6,272.3 L456.9,272.9 L458.3,273.5 L459.7,274.2 L461.0,274.8 L462.4,275.5 L463.8,276.1 L465.1,276.7 L466.5,277.3 L467.9,278.0 L469.2,278.6 L470.6,279.2 L472.0,279.8 L473.4,280.4 L474.7,281.0 L476.1,281.6 L477.5,282.2 L478.9,282.8 L480.3,283.3 L481.7,283.9 L483.1,284.5 L484.4,285.1 L485.8,285.6 L487.2,286.2 L488.6,286.8 L490.0,287.3 L491.4,287.9 L492.8,288.4 L494.2,289.0 L495.6,289.5 L497.0,290.1 L498.4,290.6 L499.8,291.1 L501.2,291.7 L502.7,292.2 L504.1,292.7 L505.5,293.2 L506.9,293.8 L508.3,294.3 L509.7,294.8 L511.1,295.3 L512.6,295.8 L514.0,296.3 L515.4,296.8 L516.8,297.3 L518.2,297.8 L519.7,298.3 L521.1,298.7 L522.5,299.2 L523.9,299.7 L525.4,300.2 L526.8,300.6 L528.2,301.1 L529.6,301.6 L531.1,302.0 L532.5,302.5 L533.9,303.0 L535.4,303.4 L536.8,303.9 L538.2,304.3 L539.7,304.7 L541.1,305.2 L542.6,305.6 L544.0,306.1 L545.4,306.5 L546.9,306.9 L548.3,307.4 L549.8,307.8 L551.2,308.2 L552.7,308.6 L554.1,309.0 L555.5,309.4 L557.0,309.9 L558.4,310.3 L559.9,310.7 L561.3,311.1 L562.8,311.5 L564.2,311.9 L565.7,312.3 L567.1,312.7 L568.6,313.0 L570.0,313.4 L571.5,313.8 L573.0,314.2 L574.4,314.6 L575.9,315.0 L577.3,315.3 L578.8,315.7 L580.2,316.1 L581.7,316.4 L583.2,316.8 L584.6,317.2 L586.1,317.5 L587.5,317.9 L589.0,318.2 L590.5,318.6 L591.9,318.9 L593.4,319.3 L594.8,319.6 L596.3,320.0 L597.8,320.3 L599.2,320.7 L600.7,321.0 L602.2,321.3 L603.6,321.7 L605.1,322.0 L606.6,322.3 L608.0,322.7 L609.5,323.0 L611.0,323.3 L612.4,323.6 L613.9,323.9 L615.4,324.3 L616.9,324.6 L618.3,324.9 L619.8,325.2 L621.3,325.5 L622.7,325.8 L624.2,326.1 L625.7,326.4 L627.2,326.7 L628.6,327.0 L630.1,327.3 L631.6,327.6 L633.1,327.9 L634.5,328.2 L636.0,328.5 L637.5,328.8 L639.0,329.0 L640.4,329.3 L641.9,329.6 L643.4,329.9 L644.9,330.2 L646.4,330.5 L647.8,330.7 L649.3,331.0 L650.8,331.3 L652.3,331.5 L653.8,331.8 L655.2,332.1 L656.7,332.3 L658.2,332.6 L659.7,332.9 L661.2,333.1 L662.6,333.4 L664.1,333.6 L665.6,333.9 L667.1,334.1 L668.6,334.4 L670.1,334.7 L671.5,334.9 L673.0,335.1 L674.5,335.4 L676.0,335.6 L677.5,335.9 L679.0,336.1 L680.4,336.4 L681.9,336.6 L683.4,336.8 L684.9,337.1 L686.4,337.3 L687.9,337.5 L689.4,337.8 L690.8,338.0 L692.3,338.2 L693.8,338.5 L695.3,338.7 L696.8,338.9 L698.3,339.1 L699.8,339.4 L701.2,339.6 L702.7,339.8 L704.2,340.0 L705.7,340.2 L707.2,340.4 L708.7,340.7 L710.2,340.9 L711.7,341.1 L713.2,341.3 L714.6,341.5 L716.1,341.7 L717.6,341.9 L719.1,342.1 L720.6,342.3 L722.1,342.5 L723.6,342.7 L725.1,342.9 L726.6,343.1 L728.1,343.3 L729.5,343.5 L731.0,343.7 L732.5,343.9 L734.0,344.1 L735.5,344.3 L737.0,344.5 L738.5,344.7 L740.0,344.9 L741.5,345.1 L743.0,345.2 L744.5,345.4 L746.0,345.6 L747.5,345.8 L748.9,346.0 L750.4,346.2 L751.9,346.3 L753.4,346.5 L754.9,346.7 L756.4,346.9 L757.9,347.0 L759.4,347.2 L760.9,347.4 L762.4,347.6 L763.9,347.7" fill="none" stroke="#808080" stroke-width="3.75" stroke-dasharray="16.578 3.1" stroke-dashoffset="1.7"/>
</g>
<line x1="123.55" y1="47.95" x2="123.55" y2="454.80" stroke="#707070" stroke-width="1.3"/>
<line x1="779.10" y1="47.95" x2="779.10" y2="454.80" stroke="#707070" stroke-width="1.6"/>
<line x1="122.90" y1="48.70" x2="779.90" y2="48.70" stroke="#707070" stroke-width="1.5"/>
<line x1="122.90" y1="454.00" x2="779.90" y2="454.00" stroke="#707070" stroke-width="1.6"/>
<g>
<line x1="159.38" y1="454.00" x2="159.38" y2="449.70" stroke="#707070" stroke-width="1.25"/>
<line x1="159.38" y1="48.70" x2="159.38" y2="53.00" stroke="#707070" stroke-width="0.55"/>
<line x1="195.06" y1="454.00" x2="195.06" y2="446.80" stroke="#707070" stroke-width="1.25"/>
<line x1="195.06" y1="48.70" x2="195.06" y2="55.90" stroke="#707070" stroke-width="0.55"/>
<line x1="230.75" y1="454.00" x2="230.75" y2="449.70" stroke="#707070" stroke-width="1.25"/>
<line x1="230.75" y1="48.70" x2="230.75" y2="53.00" stroke="#707070" stroke-width="0.55"/>
<line x1="266.43" y1="454.00" x2="266.43" y2="449.70" stroke="#707070" stroke-width="1.25"/>
<line x1="266.43" y1="48.70" x2="266.43" y2="53.00" stroke="#707070" stroke-width="0.55"/>
<line x1="302.12" y1="454.00" x2="302.12" y2="449.70" stroke="#707070" stroke-width="1.25"/>
<line x1="302.12" y1="48.70" x2="302.12" y2="53.00" stroke="#707070" stroke-width="0.55"/>
<line x1="337.80" y1="454.00" x2="337.80" y2="446.80" stroke="#707070" stroke-width="1.25"/>
<line x1="337.80" y1="48.70" x2="337.80" y2="55.90" stroke="#707070" stroke-width="0.55"/>
<line x1="373.49" y1="454.00" x2="373.49" y2="449.70" stroke="#707070" stroke-width="1.25"/>
<line x1="373.49" y1="48.70" x2="373.49" y2="53.00" stroke="#707070" stroke-width="0.55"/>
<line x1="409.17" y1="454.00" x2="409.17" y2="449.70" stroke="#707070" stroke-width="1.25"/>
<line x1="409.17" y1="48.70" x2="409.17" y2="53.00" stroke="#707070" stroke-width="0.55"/>
<line x1="444.86" y1="454.00" x2="444.86" y2="449.70" stroke="#707070" stroke-width="1.25"/>
<line x1="444.86" y1="48.70" x2="444.86" y2="53.00" stroke="#707070" stroke-width="0.55"/>
<line x1="480.54" y1="454.00" x2="480.54" y2="446.80" stroke="#707070" stroke-width="1.25"/>
<line x1="480.54" y1="48.70" x2="480.54" y2="55.90" stroke="#707070" stroke-width="0.55"/>
<line x1="516.23" y1="454.00" x2="516.23" y2="449.70" stroke="#707070" stroke-width="1.25"/>
<line x1="516.23" y1="48.70" x2="516.23" y2="53.00" stroke="#707070" stroke-width="0.55"/>
<line x1="551.91" y1="454.00" x2="551.91" y2="449.70" stroke="#707070" stroke-width="1.25"/>
<line x1="551.91" y1="48.70" x2="551.91" y2="53.00" stroke="#707070" stroke-width="0.55"/>
<line x1="587.60" y1="454.00" x2="587.60" y2="449.70" stroke="#707070" stroke-width="1.25"/>
<line x1="587.60" y1="48.70" x2="587.60" y2="53.00" stroke="#707070" stroke-width="0.55"/>
<line x1="623.28" y1="454.00" x2="623.28" y2="446.80" stroke="#707070" stroke-width="1.25"/>
<line x1="623.28" y1="48.70" x2="623.28" y2="55.90" stroke="#707070" stroke-width="0.55"/>
<line x1="658.97" y1="454.00" x2="658.97" y2="449.70" stroke="#707070" stroke-width="1.25"/>
<line x1="658.97" y1="48.70" x2="658.97" y2="53.00" stroke="#707070" stroke-width="0.55"/>
<line x1="694.65" y1="454.00" x2="694.65" y2="449.70" stroke="#707070" stroke-width="1.25"/>
<line x1="694.65" y1="48.70" x2="694.65" y2="53.00" stroke="#707070" stroke-width="0.55"/>
<line x1="730.34" y1="454.00" x2="730.34" y2="449.70" stroke="#707070" stroke-width="1.25"/>
<line x1="730.34" y1="48.70" x2="730.34" y2="53.00" stroke="#707070" stroke-width="0.55"/>
<line x1="766.02" y1="454.00" x2="766.02" y2="446.80" stroke="#707070" stroke-width="1.25"/>
<line x1="766.02" y1="48.70" x2="766.02" y2="55.90" stroke="#707070" stroke-width="0.55"/>
<line x1="123.70" y1="437.85" x2="128.00" y2="437.85" stroke="#707070" stroke-width="1.25"/>
<line x1="779.50" y1="437.85" x2="775.20" y2="437.85" stroke="#707070" stroke-width="0.55"/>
<line x1="123.70" y1="421.84" x2="128.00" y2="421.84" stroke="#707070" stroke-width="1.25"/>
<line x1="779.50" y1="421.84" x2="775.20" y2="421.84" stroke="#707070" stroke-width="0.55"/>
<line x1="123.70" y1="405.82" x2="128.00" y2="405.82" stroke="#707070" stroke-width="1.25"/>
<line x1="779.50" y1="405.82" x2="775.20" y2="405.82" stroke="#707070" stroke-width="0.55"/>
<line x1="123.70" y1="389.80" x2="130.90" y2="389.80" stroke="#707070" stroke-width="1.25"/>
<line x1="779.50" y1="389.80" x2="772.30" y2="389.80" stroke="#707070" stroke-width="0.55"/>
<line x1="123.70" y1="373.78" x2="128.00" y2="373.78" stroke="#707070" stroke-width="1.25"/>
<line x1="779.50" y1="373.78" x2="775.20" y2="373.78" stroke="#707070" stroke-width="0.55"/>
<line x1="123.70" y1="357.76" x2="128.00" y2="357.76" stroke="#707070" stroke-width="1.25"/>
<line x1="779.50" y1="357.76" x2="775.20" y2="357.76" stroke="#707070" stroke-width="0.55"/>
<line x1="123.70" y1="341.75" x2="128.00" y2="341.75" stroke="#707070" stroke-width="1.25"/>
<line x1="779.50" y1="341.75" x2="775.20" y2="341.75" stroke="#707070" stroke-width="0.55"/>
<line x1="123.70" y1="325.73" x2="130.90" y2="325.73" stroke="#707070" stroke-width="1.25"/>
<line x1="779.50" y1="325.73" x2="775.20" y2="325.73" stroke="#707070" stroke-width="0.55"/>
<line x1="123.70" y1="309.71" x2="128.00" y2="309.71" stroke="#707070" stroke-width="1.25"/>
<line x1="779.50" y1="309.71" x2="772.30" y2="309.71" stroke="#707070" stroke-width="0.55"/>
<line x1="123.70" y1="293.69" x2="128.00" y2="293.69" stroke="#707070" stroke-width="1.25"/>
<line x1="779.50" y1="293.69" x2="775.20" y2="293.69" stroke="#707070" stroke-width="0.55"/>
<line x1="123.70" y1="277.68" x2="128.00" y2="277.68" stroke="#707070" stroke-width="1.25"/>
<line x1="779.50" y1="277.68" x2="775.20" y2="277.68" stroke="#707070" stroke-width="0.55"/>
<line x1="123.70" y1="261.66" x2="130.90" y2="261.66" stroke="#707070" stroke-width="1.25"/>
<line x1="779.50" y1="261.66" x2="775.20" y2="261.66" stroke="#707070" stroke-width="0.55"/>
<line x1="123.70" y1="245.64" x2="128.00" y2="245.64" stroke="#707070" stroke-width="1.25"/>
<line x1="779.50" y1="245.64" x2="775.20" y2="245.64" stroke="#707070" stroke-width="0.55"/>
<line x1="123.70" y1="229.62" x2="128.00" y2="229.62" stroke="#707070" stroke-width="1.25"/>
<line x1="779.50" y1="229.62" x2="772.30" y2="229.62" stroke="#707070" stroke-width="0.55"/>
<line x1="123.70" y1="213.61" x2="128.00" y2="213.61" stroke="#707070" stroke-width="1.25"/>
<line x1="779.50" y1="213.61" x2="775.20" y2="213.61" stroke="#707070" stroke-width="0.55"/>
<line x1="123.70" y1="197.59" x2="130.90" y2="197.59" stroke="#707070" stroke-width="1.25"/>
<line x1="779.50" y1="197.59" x2="775.20" y2="197.59" stroke="#707070" stroke-width="0.55"/>
<line x1="123.70" y1="181.57" x2="128.00" y2="181.57" stroke="#707070" stroke-width="1.25"/>
<line x1="779.50" y1="181.57" x2="775.20" y2="181.57" stroke="#707070" stroke-width="0.55"/>
<line x1="123.70" y1="165.55" x2="128.00" y2="165.55" stroke="#707070" stroke-width="1.25"/>
<line x1="779.50" y1="165.55" x2="775.20" y2="165.55" stroke="#707070" stroke-width="0.55"/>
<line x1="123.70" y1="149.54" x2="128.00" y2="149.54" stroke="#707070" stroke-width="1.25"/>
<line x1="779.50" y1="149.54" x2="772.30" y2="149.54" stroke="#707070" stroke-width="0.55"/>
<line x1="123.70" y1="133.52" x2="130.90" y2="133.52" stroke="#707070" stroke-width="1.25"/>
<line x1="779.50" y1="133.52" x2="775.20" y2="133.52" stroke="#707070" stroke-width="0.55"/>
<line x1="123.70" y1="117.50" x2="128.00" y2="117.50" stroke="#707070" stroke-width="1.25"/>
<line x1="779.50" y1="117.50" x2="775.20" y2="117.50" stroke="#707070" stroke-width="0.55"/>
<line x1="123.70" y1="101.48" x2="128.00" y2="101.48" stroke="#707070" stroke-width="1.25"/>
<line x1="779.50" y1="101.48" x2="775.20" y2="101.48" stroke="#707070" stroke-width="0.55"/>
<line x1="123.70" y1="85.47" x2="128.00" y2="85.47" stroke="#707070" stroke-width="1.25"/>
<line x1="779.50" y1="85.47" x2="775.20" y2="85.47" stroke="#707070" stroke-width="0.55"/>
<line x1="123.70" y1="69.45" x2="130.90" y2="69.45" stroke="#707070" stroke-width="1.25"/>
<line x1="779.50" y1="69.45" x2="772.30" y2="69.45" stroke="#707070" stroke-width="0.55"/>
<line x1="123.70" y1="53.43" x2="128.00" y2="53.43" stroke="#707070" stroke-width="1.25"/>
<line x1="779.50" y1="53.43" x2="775.20" y2="53.43" stroke="#707070" stroke-width="0.55"/>
</g>
<g>
<text id="t1" x="291.35" y="31.60" font-size="37.6">a</text>
<text id="t2e" transform="translate(310.10,35.24) skewX(0) scale(1.16,1)" font-size="37.6">=</text>
<text id="t2" x="335.20" y="31.60" font-size="37.6">0.8</text>
<text id="t2c" x="381.05" y="31.60" font-size="37.6">,</text>
<text id="t3" x="398.30" y="31.60" font-size="37.6">Q</text>
<text id="t4e" transform="translate(424.20,35.24) skewX(0) scale(1.16,1)" font-size="37.6">=</text>
<text id="t4" x="449.00" y="31.60" font-size="37.6">0.5</text>
<text id="t4c" x="494.15" y="31.60" font-size="37.6">,</text>
<text id="t5" transform="translate(513.65,31.60) skewX(0) scale(1.2,1)" font-size="37.6">α</text>
<text id="t6e" transform="translate(537.90,35.24) skewX(0) scale(1.16,1)" font-size="37.6">=</text>
<text id="t6" x="562.70" y="31.60" font-size="37.6">0.6</text>
<text id="x2" x="187.49" y="489.00" font-size="32">2</text>
<text id="x4" x="330.18" y="489.00" font-size="32">4</text>
<text id="x6" x="471.99" y="489.00" font-size="32">6</text>
<text id="x8" x="615.18" y="489.00" font-size="32">8</text>
<text id="x10a" x="750.75" y="489.00" font-size="32">1</text>
<text id="x10b" x="766.05" y="489.00" font-size="32">0</text>
<text id="y0" transform="translate(117.30,400.65) scale(0.975,1)" font-size="32" text-anchor="end">0.0</text>
<text id="y1" transform="translate(117.30,336.58) scale(0.975,1)" font-size="32" text-anchor="end">0.2</text>
<text id="y2" transform="translate(117.30,272.51) scale(0.975,1)" font-size="32" text-anchor="end">0.4</text>
<text id="y3" transform="translate(117.30,208.44) scale(0.975,1)" font-size="32" text-anchor="end">0.6</text>
<text id="y4" transform="translate(117.30,144.37) scale(0.975,1)" font-size="32" text-anchor="end">0.8</text>
<text id="y5a" x="79.05" y="80.30" font-size="32">1</text>
<text id="y5b" transform="translate(117.30,80.30) scale(1.0,1)" font-size="32" text-anchor="end">.0</text>
<text id="ym" transform="translate(117.30,464.72) scale(0.975,1)" font-size="32" text-anchor="end">0.2</text>
<text id="ymm" transform="translate(57.65,466.52) skewX(0) scale(1.13,1)" font-size="32">−</text>
<text id="xl" transform="translate(444.30,535.10) skewX(0) scale(1.1,1)" font-size="30.3">r</text>
<text id="yl" transform="translate(-2.30,260.00) skewX(-13) scale(0.91,1)" font-size="30.5">V</text>
<text id="yls" transform="translate(17.90,265.20) skewX(-4) scale(1.0,1)" font-size="21.8">eff</text>
<text id="lw0" transform="translate(692.65,88.50) skewX(0) scale(1.06,1)" font-size="32">ω</text>
<text id="lc0" x="712.75" y="93.00" font-size="22.7">c</text>
<text id="le0" transform="translate(724.65,91.60) skewX(0) scale(1.16,1)" font-size="32">=</text>
<text id="ln0" x="745.95" y="88.50" font-size="32">0</text>
<text id="lw1" transform="translate(692.65,141.17) skewX(0) scale(1.06,1)" font-size="32">ω</text>
<text id="lc1" x="712.75" y="145.67" font-size="22.7">c</text>
<text id="le1" transform="translate(724.65,144.27) skewX(0) scale(1.16,1)" font-size="32">=</text>
<text id="ln1" x="746.75" y="141.17" font-size="32">1</text>
<text id="lw2" transform="translate(692.65,193.84) skewX(0) scale(1.06,1)" font-size="32">ω</text>
<text id="lc2" x="712.75" y="198.34" font-size="22.7">c</text>
<text id="le2" transform="translate(724.65,196.94) skewX(0) scale(1.16,1)" font-size="32">=</text>
<text id="ln2" x="747.00" y="193.84" font-size="32">2</text>
<text id="lw3" transform="translate(692.65,246.51) skewX(0) scale(1.06,1)" font-size="32">ω</text>
<text id="lc3" x="712.75" y="251.01" font-size="22.7">c</text>
<text id="le3" transform="translate(724.65,249.61) skewX(0) scale(1.16,1)" font-size="32">=</text>
<text id="ln3" x="747.00" y="246.51" font-size="32">3</text>
</g>
<g>
<line x1="588.1" y1="75.05" x2="673.8" y2="75.05" stroke="#000000" stroke-width="3.75"/>
<line x1="588.1" y1="127.72" x2="673.8" y2="127.72" stroke="#ff0000" stroke-width="3.75" stroke-dasharray="18.7 3.6"/>
<line x1="588.1" y1="180.39" x2="673.8" y2="180.39" stroke="#0000ff" stroke-width="3.75" stroke-dasharray="18.7 3.6"/>
<line x1="588.1" y1="233.06" x2="673.8" y2="233.06" stroke="#808080" stroke-width="3.75" stroke-dasharray="18.7 3.6"/>
</g>
</svg>
</body></html>
